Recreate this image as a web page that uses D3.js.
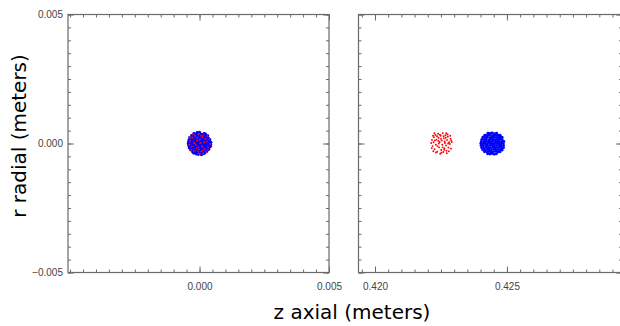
<!DOCTYPE html>
<html>
<head>
<meta charset="utf-8">
<script src="https://cdn.jsdelivr.net/npm/d3@7"></script>
<style>
  body { margin: 0; background: #fff; }
  svg { display: block; }
</style>
</head>
<body>
<svg id="chart" width="620" height="326"></svg>
<script>
// particle positions, [z, r] in millimetres (axes are labelled in metres)
const leftZDomain = [-5.08, 5.0];
const rightZDomain = [419.375, 429.36];
const rDomain = [-5, 5];

const leftXTicks = [0, 5];
const rightXTicks = [420, 425];
const yTicks = [-5, 0, 5];

// t = 0 : both species sit on top of each other at z = 0
const leftBlue = [
  [-0.13,-0.41],[-0.05,-0.43],[0.04,-0.42],[0.12,-0.40],[-0.22,-0.38],[0.18,-0.39],[0.08,-0.44],
  [-0.27,-0.33],[-0.18,-0.35],[-0.11,-0.34],[-0.02,-0.32],[0.05,-0.36],[0.14,-0.33],[0.22,-0.35],[0.28,-0.31],
  [-0.35,-0.25],[-0.26,-0.27],[-0.19,-0.24],[-0.10,-0.26],[-0.03,-0.28],[0.06,-0.25],[0.13,-0.27],[0.21,-0.24],[0.30,-0.26],[0.36,-0.23],
  [-0.40,-0.17],[-0.31,-0.19],[-0.24,-0.16],[-0.15,-0.18],[-0.08,-0.20],[0.01,-0.17],[0.08,-0.19],[0.17,-0.16],[0.24,-0.18],[0.32,-0.20],[0.39,-0.15],
  [-0.42,-0.09],[-0.35,-0.11],[-0.27,-0.08],[-0.18,-0.10],[-0.10,-0.12],[-0.03,-0.09],[0.05,-0.11],[0.14,-0.08],[0.21,-0.10],[0.29,-0.12],[0.37,-0.09],[0.43,-0.11],
  [-0.44,-0.01],[-0.36,-0.03],[-0.28,0.00],[-0.21,-0.02],[-0.12,-0.04],[-0.05,-0.01],[0.04,-0.03],[0.11,0.00],[0.20,-0.02],[0.27,-0.04],[0.35,-0.01],[0.43,-0.03],
  [-0.43,0.07],[-0.34,0.05],[-0.27,0.08],[-0.18,0.06],[-0.11,0.04],[-0.02,0.07],[0.06,0.05],[0.13,0.08],[0.22,0.06],[0.29,0.04],[0.37,0.07],[0.44,0.05],
  [-0.41,0.15],[-0.33,0.13],[-0.24,0.16],[-0.17,0.14],[-0.08,0.12],[-0.01,0.15],[0.08,0.13],[0.15,0.16],[0.23,0.14],[0.31,0.12],[0.40,0.15],
  [-0.38,0.23],[-0.29,0.21],[-0.22,0.24],[-0.13,0.22],[-0.05,0.20],[0.03,0.23],[0.11,0.21],[0.19,0.24],[0.27,0.22],[0.36,0.20],
  [-0.31,0.31],[-0.24,0.29],[-0.15,0.32],[-0.08,0.30],[0.01,0.28],[0.09,0.31],[0.16,0.29],[0.25,0.32],[0.32,0.30],
  [-0.22,0.39],[-0.14,0.37],[-0.06,0.40],[0.02,0.38],[0.10,0.36],[0.18,0.39],[0.23,0.37],[0.00,0.44],[-0.09,0.43]
];
const leftRed = [
  [-0.30,-0.12],[0.12,0.25],[-0.05,-0.30],[0.28,0.08],[-0.18,0.31],[0.05,0.02],[-0.36,0.10],[0.20,-0.22],
  [-0.10,0.12],[0.33,-0.15],[-0.22,-0.28],[0.09,-0.10],[-0.02,0.38],[0.38,0.18],[-0.40,-0.05],[0.15,0.34],
  [-0.14,-0.05],[0.25,-0.33],[-0.28,0.22],[0.02,-0.40],[0.30,0.30],[-0.08,0.22],[0.18,0.05],[-0.33,-0.25],
  [0.10,-0.28],[-0.20,0.02],[0.40,-0.02],[-0.12,-0.20],[0.22,0.18],[-0.04,-0.15],[0.00,0.15],[-0.25,0.38],
  [0.32,-0.25],[-0.38,0.25],[0.14,-0.38],[0.06,0.30]
];

// later time : red bunch lags behind the blue one
const rightRed = [
  [422.13,0.02],[422.18,-0.10],[422.16,0.14],[422.23,0.24],[422.26,-0.22],[422.22,0.05],[422.29,0.33],[422.31,-0.05],
  [422.33,0.15],[422.36,-0.32],[422.39,0.38],[422.41,0.22],[422.43,-0.15],[422.45,0.06],[422.47,-0.40],[422.49,0.30],
  [422.51,-0.25],[422.53,0.12],[422.55,-0.05],[422.57,0.40],[422.59,-0.33],[422.61,0.20],[422.63,-0.18],[422.65,0.02],
  [422.67,0.32],[422.69,-0.08],[422.71,-0.28],[422.73,0.14],[422.76,0.26],[422.78,-0.16],[422.81,0.05],[422.84,-0.02],
  [422.86,0.18],[422.88,-0.20],[422.91,0.06],[422.15,-0.18],[422.20,0.30],[422.27,0.12],[422.35,0.28],[422.37,-0.10],
  [422.42,0.00],[422.50,0.18],[422.56,-0.15],[422.60,0.28],[422.64,0.08],[422.72,-0.38],[422.75,0.35],[422.80,-0.30],
  [422.85,0.30],[422.31,-0.35],[422.25,0.40],[422.52,-0.36],[422.68,0.22],[422.46,0.34],[422.62,-0.24],[422.40,0.10],
  [422.77,0.00],[422.70,0.40],[422.21,-0.30],[422.89,0.12]
];
const rightBlue = [
  [424.27,-0.40],[424.35,-0.41],[424.43,-0.39],[424.52,-0.42],[424.60,-0.40],
  [424.15,-0.32],[424.24,-0.33],[424.32,-0.31],[424.41,-0.34],[424.49,-0.32],[424.58,-0.30],[424.66,-0.33],[424.74,-0.32],
  [424.08,-0.24],[424.17,-0.25],[424.25,-0.23],[424.34,-0.26],[424.42,-0.24],[424.51,-0.22],[424.59,-0.25],[424.68,-0.24],[424.76,-0.23],[424.82,-0.25],
  [424.04,-0.16],[424.13,-0.17],[424.21,-0.15],[424.30,-0.18],[424.38,-0.16],[424.47,-0.14],[424.55,-0.17],[424.64,-0.16],[424.72,-0.15],[424.81,-0.17],[424.87,-0.16],
  [424.02,-0.08],[424.10,-0.09],[424.19,-0.07],[424.27,-0.10],[424.36,-0.08],[424.44,-0.06],[424.53,-0.09],[424.61,-0.08],[424.70,-0.07],[424.78,-0.09],[424.87,-0.08],
  [424.01,0.00],[424.09,-0.01],[424.18,0.01],[424.26,-0.02],[424.35,0.00],[424.43,0.02],[424.52,-0.01],[424.60,0.00],[424.69,0.01],[424.77,-0.01],[424.86,0.00],
  [424.03,0.08],[424.12,0.07],[424.20,0.09],[424.29,0.06],[424.37,0.08],[424.46,0.10],[424.54,0.07],[424.63,0.08],[424.71,0.09],[424.80,0.07],[424.88,0.08],
  [424.05,0.16],[424.14,0.15],[424.22,0.17],[424.31,0.14],[424.39,0.16],[424.48,0.18],[424.56,0.15],[424.65,0.16],[424.73,0.17],[424.82,0.15],
  [424.09,0.24],[424.18,0.23],[424.26,0.25],[424.35,0.22],[424.43,0.24],[424.52,0.26],[424.60,0.23],[424.69,0.24],[424.77,0.25],[424.82,0.23],
  [424.16,0.32],[424.25,0.31],[424.33,0.33],[424.42,0.30],[424.50,0.32],[424.59,0.34],[424.67,0.31],[424.74,0.32],
  [424.28,0.40],[424.36,0.39],[424.44,0.41],[424.53,0.38],[424.61,0.40]
];

const svg = d3.select("#chart");
const frameColor = "#6a6a6a";
const fmt = d => d3.format(".3f")(d / 1000);

const y = d3.scaleLinear().domain(rDomain).range([272.5, 14.5]);
const minorY = d3.range(-5, 5.01, 0.5);

const panels = [
  { x: d3.scaleLinear().domain(leftZDomain).range([68, 329]), ticks: leftXTicks,
    minor: d3.range(-5, 5.01, 0.5), yLabels: true,
    sets: [[leftBlue, "#0000ff", 1.45], [leftRed, "#ff0000", 0.95]] },
  { x: d3.scaleLinear().domain(rightZDomain).range([358.5, 622]), ticks: rightXTicks,
    minor: d3.range(419.5, 429.01, 0.5), yLabels: false,
    sets: [[rightRed, "#ff0000", 0.95], [rightBlue, "#0000ff", 1.45]] }
];

panels.forEach(p => {
  const [x0, x1] = p.x.range();
  const g = svg.append("g");

  // points
  p.sets.forEach(([pts, color, rad]) => {
    g.append("g").selectAll("circle")
      .data(pts)
      .join("circle")
      .attr("cx", d => p.x(d[0]))
      .attr("cy", d => y(d[1]))
      .attr("r", rad)
      .attr("fill", color);
  });

  // minor ticks on all four sides
  const minorAxes = [
    [d3.axisBottom(p.x).tickValues(p.minor), `translate(0,${y.range()[0]})`],
    [d3.axisTop(p.x).tickValues(p.minor), `translate(0,${y.range()[1]})`],
    [d3.axisLeft(y).tickValues(minorY), `translate(${x0},0)`],
    [d3.axisRight(y).tickValues(minorY), `translate(${x1},0)`]
  ];
  minorAxes.forEach(([ax, tr]) => {
    g.append("g").attr("transform", tr)
      .call(ax.tickSize(-3).tickSizeOuter(0).tickFormat(""))
      .call(s => s.select(".domain").remove())
      .call(s => s.selectAll("line").attr("stroke", frameColor));
  });

  // major ticks
  const majorAxes = [
    [d3.axisBottom(p.x).tickValues(p.ticks).tickFormat(fmt).tickPadding(10), `translate(0,${y.range()[0]})`],
    [d3.axisTop(p.x).tickValues(p.ticks).tickFormat(""), `translate(0,${y.range()[1]})`],
    [d3.axisLeft(y).tickValues(yTicks).tickFormat(p.yLabels ? fmt : "").tickPadding(5), `translate(${x0},0)`],
    [d3.axisRight(y).tickValues(yTicks).tickFormat(""), `translate(${x1},0)`]
  ];
  majorAxes.forEach(([ax, tr]) => {
    g.append("g").attr("transform", tr)
      .call(ax.tickSize(-6).tickSizeOuter(0))
      .call(s => s.select(".domain").remove())
      .call(s => s.selectAll("line").attr("stroke", frameColor))
      .call(s => s.selectAll("text")
        .attr("fill", "#444")
        .style("font-family", "'Liberation Sans', Arial, sans-serif")
        .style("font-size", "10px"));
  });

  // frame
  g.append("rect")
    .attr("x", x0).attr("y", y.range()[1])
    .attr("width", x1 - x0).attr("height", y.range()[0] - y.range()[1])
    .attr("fill", "none")
    .attr("stroke", frameColor)
    .attr("stroke-width", 1.2);
});

// axis titles
svg.append("text")
  .attr("transform", "translate(26,136) rotate(-90)")
  .attr("text-anchor", "middle")
  .style("font-family", "'DejaVu Sans', sans-serif")
  .style("font-size", "20px")
  .text("r radial (meters)");

svg.append("text")
  .attr("x", 352).attr("y", 319)
  .attr("text-anchor", "middle")
  .style("font-family", "'DejaVu Sans', sans-serif")
  .style("font-size", "20px")
  .text("z axial (meters)");
</script>
</body>
</html>
